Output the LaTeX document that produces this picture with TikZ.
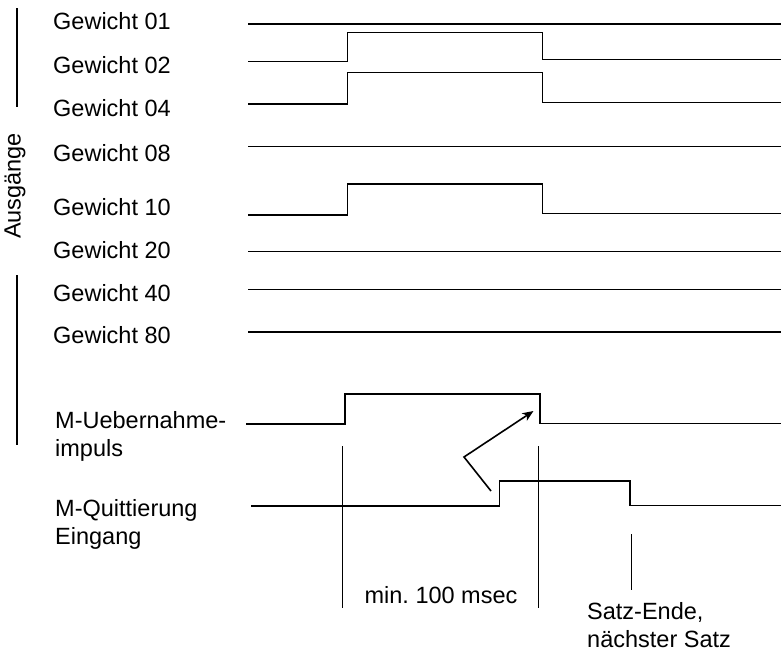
\documentclass[tikz,border=0pt]{standalone}
\usepackage{fontspec}
\setmainfont{Liberation Sans}
\usetikzlibrary{arrows.meta}
\frenchspacing
\begin{document}
\begin{tikzpicture}[x=1pt,y=-1pt,
  lbl/.style={anchor=base west,inner sep=0pt,font=\fontsize{23.5}{28}\selectfont,align=left},
  sig/.style={line width=1.8pt,line join=miter},
  tline/.style={line width=1.6pt},
  ]
\useasboundingbox (0,0) rectangle (781,653);
% labels
\node[lbl] (g01) at (53,29.3) {Gewicht 01};
\node[lbl] (g02) at (53,73) {Gewicht 02};
\node[lbl] (g04) at (53,116) {Gewicht 04};
\node[lbl] (g08) at (53,161) {Gewicht 08};
\node[lbl] (g10) at (53,215) {Gewicht 10};
\node[lbl] (g20) at (53,258) {Gewicht 20};
\node[lbl] (g40) at (53,301) {Gewicht 40};
\node[lbl] (g80) at (53,343) {Gewicht 80};
\node[lbl] (mu) at (55,456.8) {M-Uebernahme-\\impuls};
\node[lbl] (mq) at (55,544) {M-Quittierung\\Eingang};
\node[font=\fontsize{23.5}{27}\selectfont,rotate=90,inner sep=0pt] (aus) at (15,186) {Ausgänge};
\draw[tline] (17,8) -- (17,107);
\draw[tline] (17,275) -- (17,445);
% signals
\draw[sig] (248,24) -- (781,24);
\draw[sig] (248,61.5) -- (347.5,61.5) -- (347.5,32.5) -- (542.5,32.5) -- (542.5,59.5) -- (781,59.5);
\draw[sig] (248,104) -- (347.5,104) -- (347.5,72.5) -- (542.5,72.5) -- (542.5,102.5) -- (781,102.5);
\draw[sig] (248,146.5) -- (781,146.5);
\draw[sig] (248,215) -- (347.5,215) -- (347.5,184) -- (542.5,184) -- (542.5,213.5) -- (781,213.5);
\draw[sig] (248,251.5) -- (781,251.5);
\draw[sig] (248,289.5) -- (781,289.5);
\draw[sig] (248,332) -- (781,332);
\draw[sig] (246,424) -- (345,424) -- (345,394) -- (540,394) -- (540,423.5) -- (781,423.5);
\draw[sig] (251,506) -- (499.5,506) -- (499.5,481) -- (630,481) -- (630,505.5) -- (781,505.5);
% time marks
\coordinate (v1t) at (342.5,446); \coordinate (v1b) at (342.5,608);
\coordinate (v2t) at (538.5,446); \coordinate (v2b) at (538.5,608);
\coordinate (v3t) at (631.5,534); \coordinate (v3b) at (631.5,590);
\draw[tline] (v1t) -- (v1b);
\draw[tline] (v2t) -- (v2b);
\draw[tline] (v3t) -- (v3b);
% arrow
\coordinate (a0) at (491,491);
\coordinate (a1) at (464,457);
\coordinate (a2) at (533.5,411);
\draw[tline,-{Stealth[length=11pt,width=9pt,inset=3pt]}] (a0) -- (a1) -- (a2);
% bottom texts
\node[font=\fontsize{23.5}{27}\selectfont,anchor=base,inner sep=0pt] (t1) at (441,603) {min. 100 msec};
\node[lbl] (t2) at (587,647.5) {Satz-Ende,\\nächster Satz};
\end{tikzpicture}
\end{document}
